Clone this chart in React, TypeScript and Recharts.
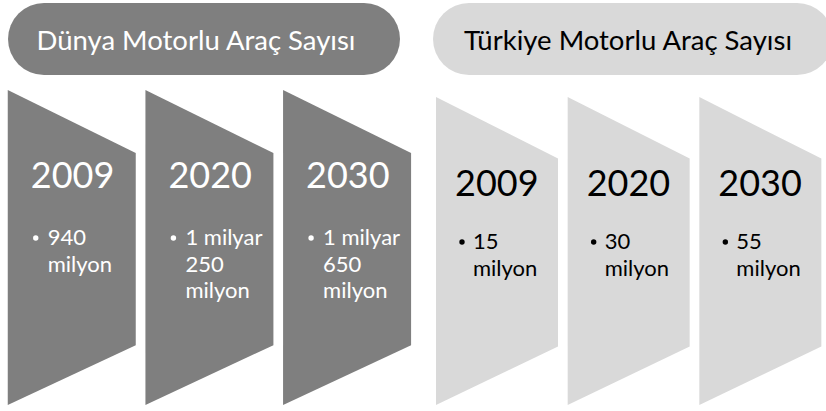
import React from 'react';
import { BarChart, Bar, XAxis, YAxis } from 'recharts';

// Motorlu araç sayısı – Dünya / Türkiye
const years = ['2009', '2020', '2030'];
const worldLines = [['940', 'milyon'], ['1 milyar', '250', 'milyon'], ['1 milyar', '650', 'milyon']];
const turkeyLines = [['15', 'milyon'], ['30', 'milyon'], ['55', 'milyon']];
const worldTitle = 'Dünya Motorlu Araç Sayısı';
const turkeyTitle = 'Türkiye Motorlu Araç Sayısı';

const worldData = years.map((year, i) => ({ year, panel: 1, lines: worldLines[i] }));
const turkeyData = years.map((year, i) => ({ year, panel: 1, lines: turkeyLines[i] }));

const FONT = 'Lato, "Open Sans", sans-serif';

interface Theme {
  fill: string;
  text: string;
  yearDx: number;
  yearDy: number;
  bulletDx: number;
  textDx: number;
  firstDy: number;
}

const darkTheme: Theme = { fill: '#7f7f7f', text: '#ffffff', yearDx: 23, yearDy: 98, bulletDx: 28, textDx: 40, firstDy: 155 };
const lightTheme: Theme = { fill: '#d9d9d9', text: '#000000', yearDx: 19, yearDy: 99, bulletDx: 26, textDx: 37, firstDy: 152 };

function Panel(props: any) {
  const { x, y, width, height, theme } = props;
  const row = props.payload ?? props;
  const pts = [
    [x, y],
    [x + width, y + height * 0.2],
    [x + width, y + height * 0.81],
    [x, y + height],
  ].map((p) => p.join(',')).join(' ');
  return (
    <g>
      <polygon points={pts} fill={theme.fill} />
      <text x={x + theme.yearDx} y={y + theme.yearDy} fill={theme.text} fontSize={36} fontFamily={FONT}>
        {row.year}
      </text>
      <circle cx={x + theme.bulletDx} cy={y + theme.firstDy - 7} r={2.7} fill={theme.text} />
      {row.lines.map((l: string, i: number) => (
        <text key={i} x={x + theme.textDx} y={y + theme.firstDy + i * 26.5} fill={theme.text} fontSize={22} fontFamily={FONT}>
          {l}
        </text>
      ))}
    </g>
  );
}

function Pill({ left, width, pad, bg, color, label }: { left: number; width: number; pad: number; bg: string; color: string; label: string }) {
  return (
    <div
      style={{
        position: 'absolute', left, top: 3, width, height: 72, borderRadius: 36, background: bg, boxSizing: 'border-box',
        paddingRight: pad, color, fontFamily: FONT, fontSize: 27.5, display: 'flex', alignItems: 'center', justifyContent: 'center',
      }}
    >
      {label}
    </div>
  );
}

export default function App() {
  return (
    <div style={{ position: 'absolute', left: 0, top: 0, width: 826, height: 411, background: '#fff', overflow: 'hidden' }}>
      <Pill left={8} width={392} pad={16} bg="#7f7f7f" color="#fff" label={worldTitle} />
      <Pill left={433} width={400} pad={10} bg="#d9d9d9" color="#000" label={turkeyTitle} />

      <div style={{ position: 'absolute', left: 3, top: 90 }}>
        <BarChart width={413} height={315} data={worldData} margin={{ top: 0, right: 0, bottom: 0, left: 0 }} barCategoryGap={4.75}>
          <XAxis dataKey="year" hide />
          <YAxis hide domain={[0, 1]} />
          <Bar dataKey="panel" isAnimationActive={false} shape={(p: any) => <Panel {...p} theme={darkTheme} />} />
        </BarChart>
      </div>

      <div style={{ position: 'absolute', left: 431, top: 97 }}>
        <BarChart width={395} height={308} data={turkeyData} margin={{ top: 0, right: 0, bottom: 0, left: 0 }} barCategoryGap={5}>
          <XAxis dataKey="year" hide />
          <YAxis hide domain={[0, 1]} />
          <Bar dataKey="panel" isAnimationActive={false} shape={(p: any) => <Panel {...p} theme={lightTheme} />} />
        </BarChart>
      </div>
    </div>
  );
}
